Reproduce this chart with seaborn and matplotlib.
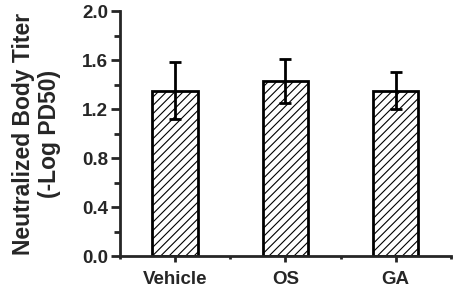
import matplotlib
matplotlib.use("Agg")
import matplotlib.pyplot as plt
import seaborn as sns
import pandas as pd
from matplotlib.ticker import MultipleLocator, FormatStrFormatter

groups = ["Vehicle", "OS", "GA"]
means = [1.35, 1.43, 1.35]
errors = [0.23, 0.18, 0.15]

sns.set_style("ticks")
plt.rcParams["font.family"] = ["Liberation Sans", "DejaVu Sans"]
plt.rcParams["font.weight"] = "bold"
plt.rcParams["hatch.color"] = "#9a9a9a"
plt.rcParams["hatch.linewidth"] = 0.8

df = pd.DataFrame({"group": groups, "mean": means, "err": errors})

fig = plt.figure(figsize=(4.54, 2.90), dpi=100)
ax = fig.add_axes([0.264, 0.117, 0.729, 0.845])
sns.barplot(data=df, x="group", y="mean", color="white", edgecolor="black",
            linewidth=2.0, width=0.41, errorbar=None, ax=ax, hatch="////")
ax.errorbar(df["group"], df["mean"], yerr=df["err"], fmt="none", ecolor="black",
            elinewidth=2.0, capsize=4, capthick=2.0, zorder=5)

ax.set_ylim(0, 2.0)
ax.set_xlim(-0.5, 2.5)
ax.yaxis.set_major_locator(MultipleLocator(0.4))
ax.yaxis.set_minor_locator(MultipleLocator(0.2))
ax.yaxis.set_major_formatter(FormatStrFormatter("%.1f"))
ax.set_xticks([0, 1, 2])
ax.set_xticks([-0.5, 0.5, 1.5, 2.5], minor=True)
ax.tick_params(axis="x", which="major", length=4.5, width=2, labelsize=13.5, pad=6, direction="out")
ax.tick_params(axis="x", which="minor", length=2.5, width=2, direction="out")
ax.tick_params(axis="y", which="major", length=6.5, width=2, labelsize=13.5, pad=2, direction="out")
ax.tick_params(axis="y", which="minor", length=4, width=2, direction="out")
for lab in ax.get_xticklabels() + ax.get_yticklabels():
    lab.set_fontweight("bold")
ax.set_xlabel("")
ax.set_ylabel("Neutralized Body Titer\n(-Log PD50)", fontsize=16.5, fontweight="bold",
              labelpad=15, linespacing=1.15)
for s in ["top", "right"]:
    ax.spines[s].set_visible(False)
for s in ["left", "bottom"]:
    ax.spines[s].set_linewidth(2.0)

fig.savefig("out.png", dpi=100)
